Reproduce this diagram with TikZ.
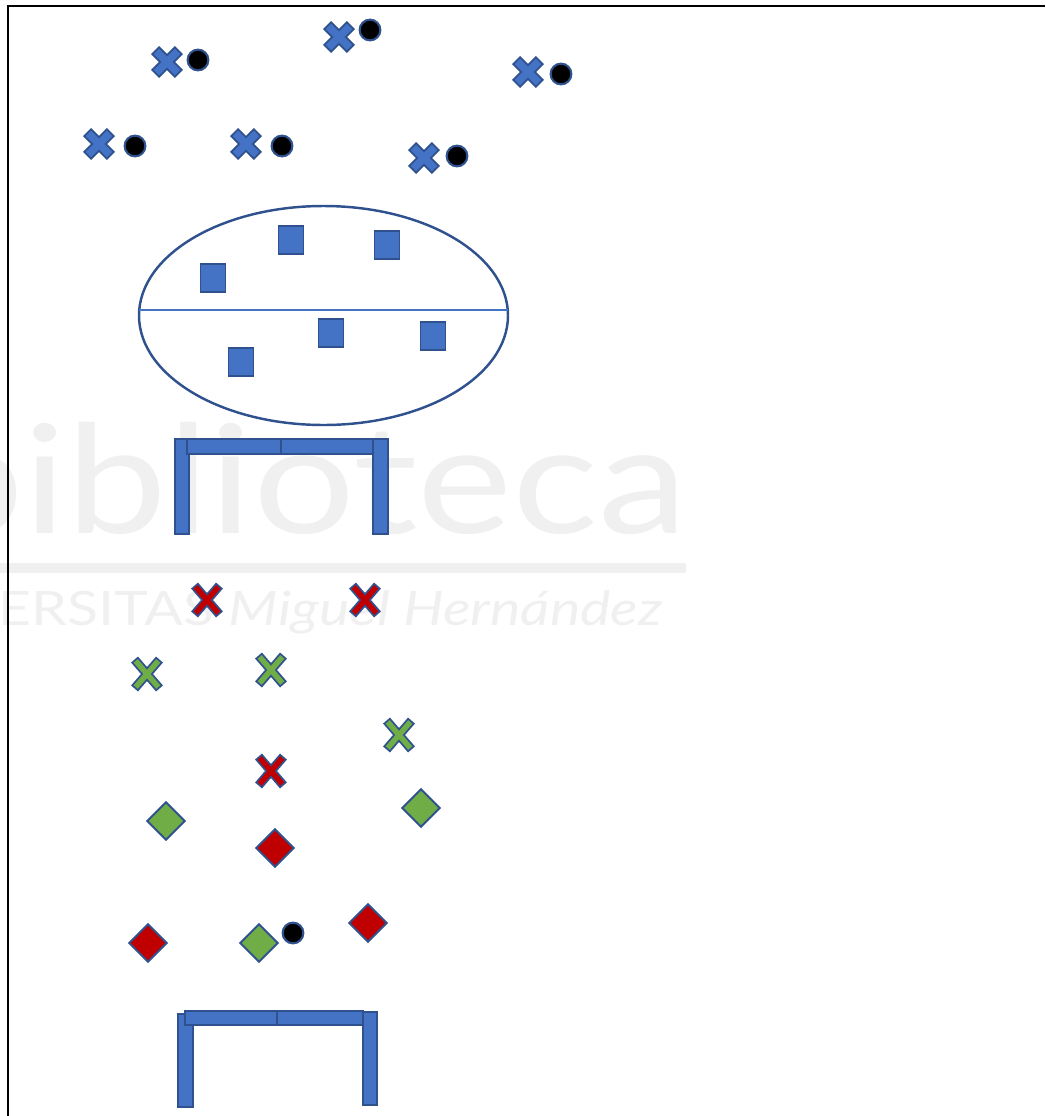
\documentclass[tikz,border=0pt]{standalone}
\usepackage{fontspec}
\usepackage{xcolor}
\usepackage{tikz}
\usetikzlibrary{shapes.geometric}
\setsansfont{Lato}
\definecolor{azul}{HTML}{4472C4}
\definecolor{azuloscuro}{HTML}{2F528F}
\definecolor{rojo}{HTML}{C00000}
\definecolor{verde}{HTML}{70AD47}
\definecolor{marca}{HTML}{F0F0F0}
\tikzset{
  every picture/.style={x=0.02cm, y=-0.02cm},
  balon/.style={circle, fill=black, draw=azuloscuro, line width=1.2pt, minimum size=11.8pt, inner sep=0pt},
  cono/.style={rectangle, fill=azul, draw=azuloscuro, line width=1.1pt, minimum width=14.2pt, minimum height=15.9pt, inner sep=0pt},
  rombo/.style={diamond, fill=#1, draw=azuloscuro, line width=1.1pt, minimum size=21.8pt, inner sep=0pt},
  poste/.style={fill=azul, draw=azuloscuro, line width=1pt},
  marcaagua/.style={anchor=base east, text=marca, inner sep=0pt},
  pics/xazul/.style={code={
    \draw[azuloscuro, line width=6.6pt, line cap=rect] (-7.8,-7.8) -- (7.8,7.8) (-7.8,7.8) -- (7.8,-7.8);
    \draw[azul, line width=4.4pt, line cap=rect] (-7.8,-7.8) -- (7.8,7.8) (-7.8,7.8) -- (7.8,-7.8);
  }},
  pics/aspa/.style={code={
    \draw[azuloscuro, line width=5.2pt, line cap=rect] (-9.5,-11) -- (9.5,11) (-9.5,11) -- (9.5,-11);
    \draw[#1, line width=3.1pt, line cap=rect] (-9.5,-11) -- (9.5,11) (-9.5,11) -- (9.5,-11);
  }},
}
\begin{document}
\begin{tikzpicture}
  \useasboundingbox (0,0) rectangle (1045,1116);
  \begin{scope}
    \clip (0,0) rectangle (1045,1116);
    \node[marcaagua, font=\sffamily\fontsize{86}{86}\selectfont] (marca1) at (688,533) {\scalebox{1.19}[1]{biblioteca}};
    \fill[marca] (0,563) rectangle (686,573);
    \node[marcaagua, font=\sffamily\fontsize{27}{27}\selectfont] (marca2) at (663,625) {\scalebox{1.21}[1]{UNIVERSITAS \textit{Miguel Hernández}}};
  \end{scope}
  \draw[line width=1.1pt] (8,1116) -- (8,6) -- (1045,6);
  \foreach \i/\x/\y/\bx/\by in {1/167/62/198/60, 2/339/37/370/30, 3/528/72/561/74,
                                4/99/144/135/146, 5/246/144/282/146, 6/424/158/457/156} {
    \pic (xa\i) at (\x,\y) {xazul};
    \node[balon] (b\i) at (\bx,\by) {};
  }
  \draw[azuloscuro, line width=1.4pt] (323.5,315.5) ellipse [x radius=184.5, y radius=109.5];
  \draw[azul, line width=0.7pt] (139,310) -- (508,310);
  \foreach \i/\x/\y in {1/291/240, 2/387/245, 3/213/278, 4/331/333, 5/433/336, 6/241/362}
    \node[cono] (c\i) at (\x,\y) {};
  \filldraw[poste] (175,439) rectangle (189,534);
  \filldraw[poste] (187,439) rectangle (281,454);
  \filldraw[poste] (281,439) rectangle (375,454);
  \filldraw[poste] (373,439) rectangle (388,534);
  \foreach \i/\x/\y in {1/207/600, 2/365/600, 3/271/771}
    \pic (xr\i) at (\x,\y) {aspa=rojo};
  \foreach \i/\x/\y in {1/147/674, 2/271/670, 3/399/735}
    \pic (xv\i) at (\x,\y) {aspa=verde};
  \foreach \i/\x/\y in {1/166/821, 2/421/808, 3/259/943}
    \node[rombo=verde] (rv\i) at (\x,\y) {};
  \foreach \i/\x/\y in {1/275/848, 2/148/943, 3/368/923}
    \node[rombo=rojo] (rr\i) at (\x,\y) {};
  \node[balon] (b7) at (293,933) {};
  \filldraw[poste] (178,1014) rectangle (193,1107);
  \filldraw[poste] (185,1011) rectangle (277,1025);
  \filldraw[poste] (277,1011) rectangle (363,1025);
  \filldraw[poste] (363,1012) rectangle (377,1105);
\end{tikzpicture}
\end{document}
